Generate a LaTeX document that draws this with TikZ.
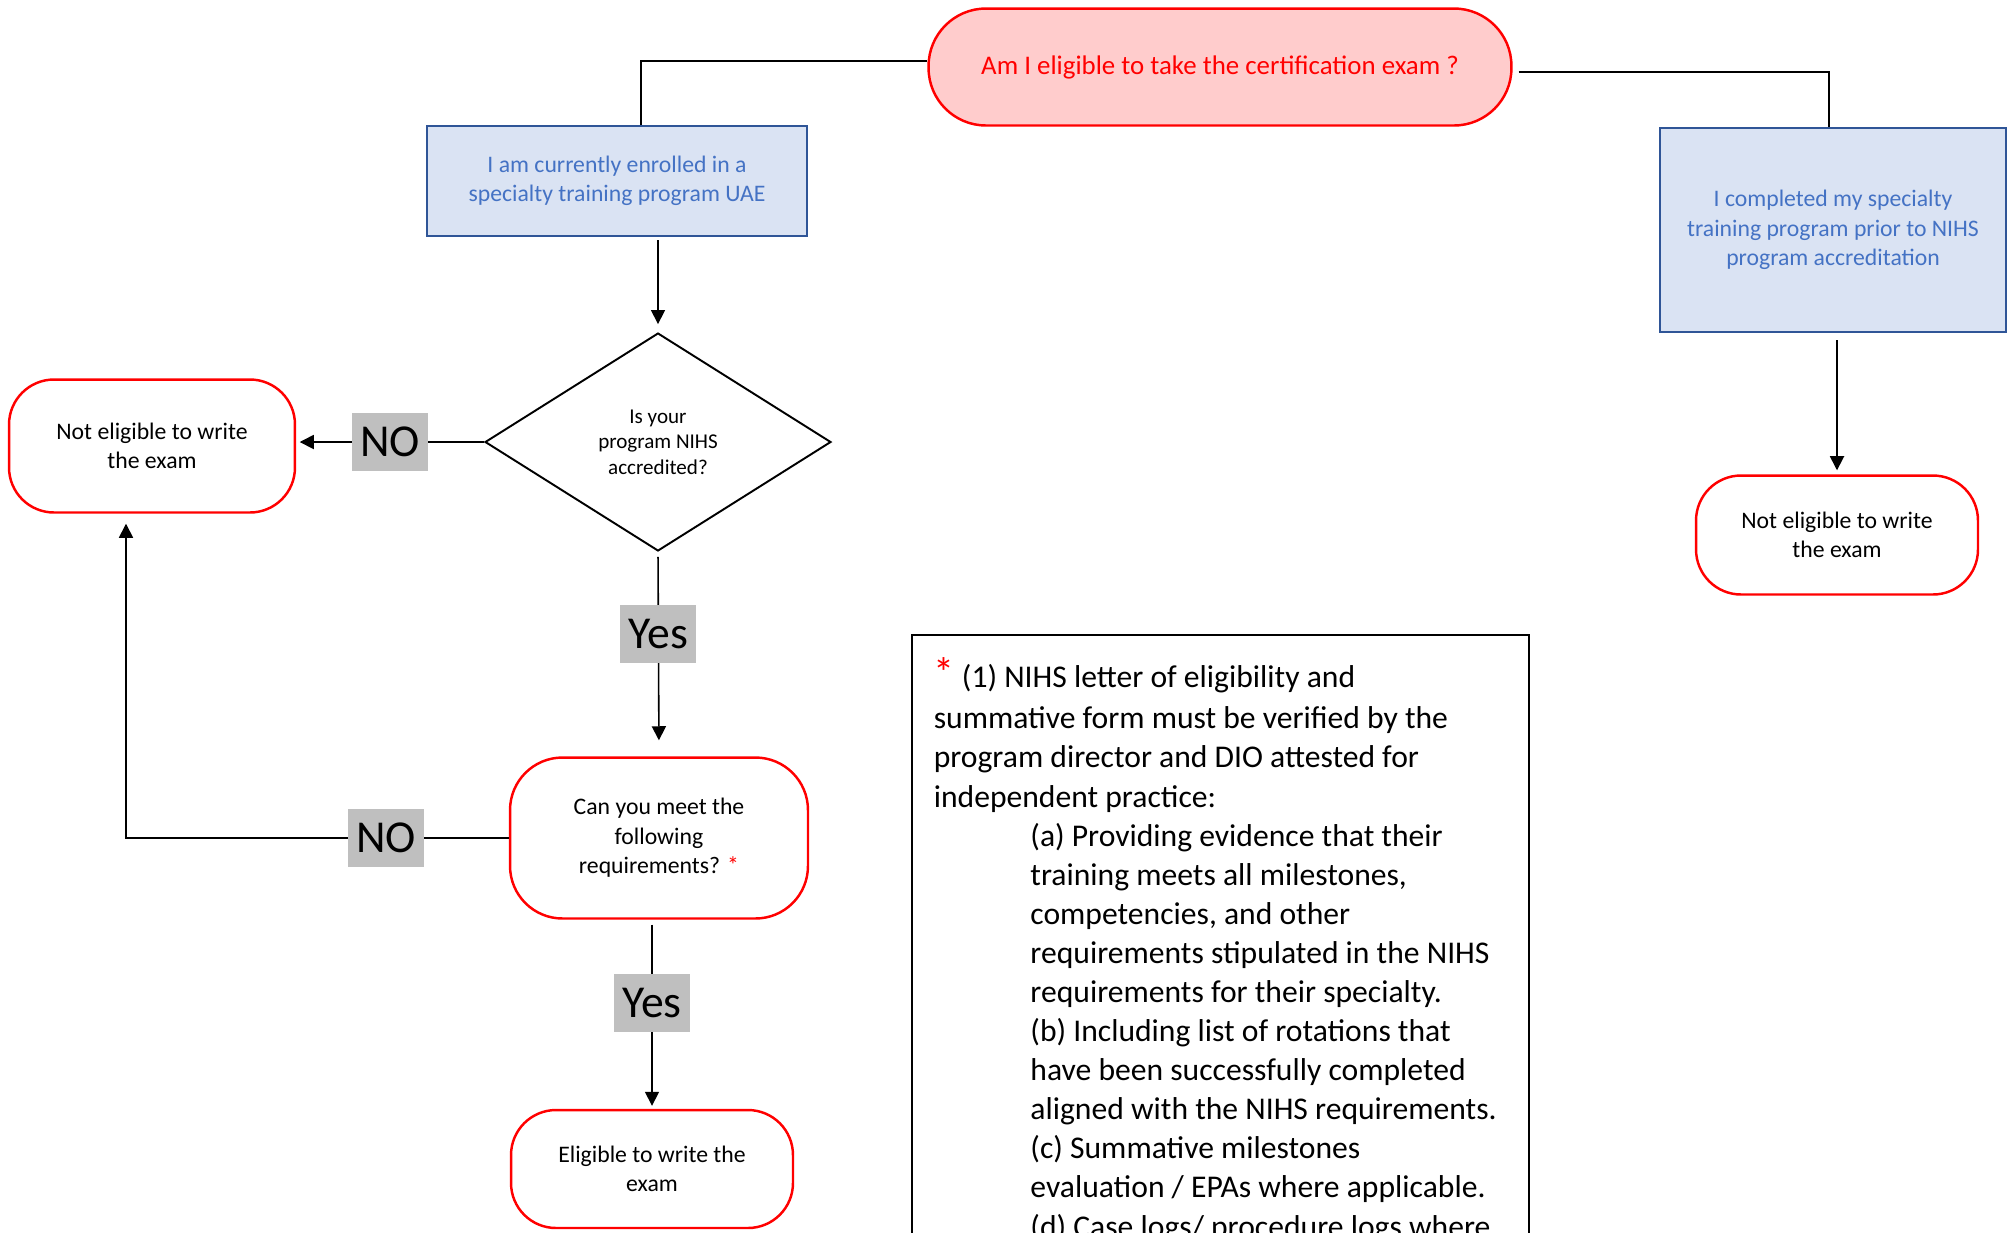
\documentclass[tikz,border=0pt]{standalone}
\usepackage{fontspec}
\setmainfont{Carlito}
\usetikzlibrary{shapes, arrows.meta, positioning, calc}
\definecolor{pinkfill}{RGB}{255,204,204}
\definecolor{boxfill}{RGB}{218,227,243}
\definecolor{boxline}{RGB}{47,85,151}
\definecolor{boxtext}{RGB}{68,114,196}
\definecolor{tagfill}{RGB}{191,191,191}

\begin{document}
\begin{tikzpicture}[x=0.02cm, y=-0.02cm, line width=0.9pt, > = {Triangle[width=8pt,length=8pt]},
    endbox/.style = {draw=red, line width=1.4pt, fill=white, rounded corners=0.9cm, align=center, inner sep=0pt, font=\fontsize{13.5}{16.8}\selectfont},
    askbox/.style = {endbox, fill=pinkfill, text=red, rounded corners=1.15cm, font=\fontsize{15.3}{18}\selectfont},
    bluebox/.style = {draw=boxline, line width=1.4pt, fill=boxfill, text=boxtext, align=center, inner sep=0pt, font=\fontsize{13.5}{16.8}\selectfont},
    decision/.style = {diamond, draw, line width=1.1pt, fill=white, align=center, inner sep=0pt, minimum width=6.92cm, minimum height=4.36cm, font=\fontsize{12}{14.6}\selectfont},
    tag/.style = {fill=tagfill, minimum width=1.52cm, minimum height=1.16cm, inner sep=0pt, font=\fontsize{26}{26}\selectfont},
    notes/.style = {align=left, inner sep=0pt, font=\fontsize{18}{22.25}\selectfont}]
    \useasboundingbox (0,0) rectangle (2011,1232);
    \clip (0,0) rectangle (2011,1232);

    \node[askbox, minimum width=11.66cm, minimum height=2.34cm] (ask) at (1220,67) {Am I eligible to take the certification exam ?};
    \node[bluebox, minimum width=7.6cm, minimum height=2.2cm] (enrol) at (617,181) {I am currently enrolled in a\\specialty training program UAE};
    \node[bluebox, minimum width=6.92cm, minimum height=4.08cm] (done) at (1833,230) {I completed my specialty\\training program prior to NIHS\\program accreditation};
    \node[endbox, minimum width=5.64cm, minimum height=2.38cm] (notR) at (1837,535) {Not eligible to write\\the exam};
    \node[decision] (accr) at (658,442) {Is your\\program NIHS\\accredited?};
    \node[endbox, minimum width=5.72cm, minimum height=2.66cm] (notL) at (152,446) {Not eligible to write\\the exam};
    \node[endbox, rounded corners=1.05cm, minimum width=5.96cm, minimum height=3.22cm] (meet) at (659,838) {Can you meet the\\following\\requirements? {\color{red}*}};
    \node[endbox, minimum width=5.64cm, minimum height=2.36cm] (elig) at (652,1169) {Eligible to write the\\exam};
    \coordinate (bend) at (126,838);

    \draw ([yshift=0.12cm]ask.west) -| ([xshift=0.48cm]enrol.north);
    \draw ([yshift=-0.1cm,xshift=0.12cm]ask.east) -| ([xshift=-0.08cm]done.north);
    \draw[->, shorten <=0.06cm, shorten >=0.16cm] (enrol.south -| accr.north) -- (accr.north);
    \draw[->, shorten >=2pt] (accr.west) -- node[tag] (no1) {NO} (accr.west -| notL.east);
    \draw[->, shorten <=0.1cm, shorten >=0.32cm] (accr.south) -- node[tag, pos=0.4] (yes1) {Yes} (meet.north);
    \draw[->, shorten >=0.2cm] (meet.west) -- node[tag, pos=0.32] (no2) {NO} (bend) -- (bend |- notL.south);
    \draw[->, shorten <=0.1cm, shorten >=0.06cm] (meet.south -| elig.north) -- node[tag, pos=0.44] (yes2) {Yes} (elig.north);
    \draw[->, shorten <=0.14cm, shorten >=0.08cm] (done.south -| notR.north) -- (notR.north);

    % requirements box
    \draw[line width=1.3pt] (912,635) rectangle (1529,1300);
    \node[notes, anchor=base west] (req) at (933,1237) {{\color{red}\fontsize{24}{24}\selectfont *} (1) NIHS letter of eligibility and\\[1pt]
    summative form must be verified by the\\
    program director and DIO attested for\\
    independent practice:\\
    \hspace*{55pt}(a) Providing evidence that their\\
    \hspace*{55pt}training meets all milestones,\\
    \hspace*{55pt}competencies, and other\\
    \hspace*{55pt}requirements stipulated in the NIHS\\
    \hspace*{55pt}requirements for their specialty.\\
    \hspace*{55pt}(b) Including list of rotations that\\
    \hspace*{55pt}have been successfully completed\\
    \hspace*{55pt}aligned with the NIHS requirements.\\
    \hspace*{55pt}(c) Summative milestones\\
    \hspace*{55pt}evaluation / EPAs where applicable.\\
    \hspace*{55pt}(d) Case logs/ procedure logs where};
\end{tikzpicture}
\end{document}
